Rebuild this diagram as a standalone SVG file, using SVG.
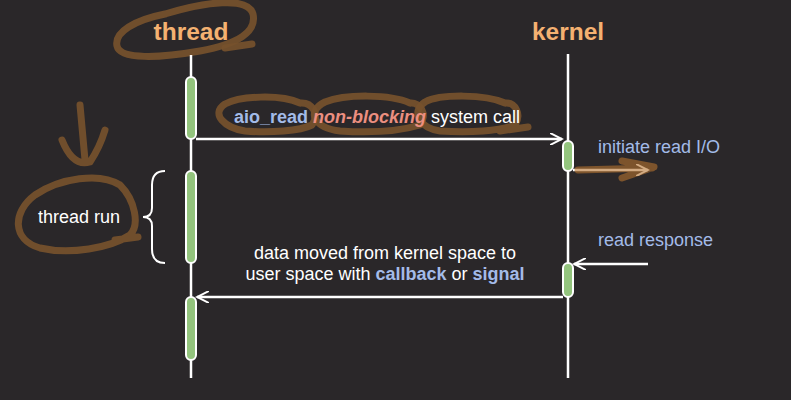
<svg xmlns="http://www.w3.org/2000/svg" width="791" height="400" viewBox="0 0 791 400">
<defs>
<style>
.life{stroke:#ffffff;stroke-width:2.5;fill:none}
.bar{fill:#93c47d;stroke:#ffffff;stroke-width:2}
.msg{stroke:#ffffff;stroke-width:2.5;fill:none}
.hdr{font-family:"Liberation Sans",Arial,sans-serif;font-weight:bold;font-size:24.5px;fill:#f4b171;text-anchor:middle}
.lbl{font-family:"Liberation Sans",Arial,sans-serif;font-size:18px;fill:#ffffff}
.blue{fill:#a3bbe8}
.ink{stroke:#76512c;stroke-width:7;fill:none;stroke-linecap:round;stroke-linejoin:round;opacity:0.92}
</style>
<marker id="open" markerWidth="14" markerHeight="12" refX="12" refY="6" orient="auto" markerUnits="userSpaceOnUse">
<path d="M0,0 L12,6 L0,12" fill="none" stroke="#ffffff" stroke-width="2"/>
</marker>
</defs>
<rect width="791" height="400" fill="#2a2729"/>

<g id="annotations">
<path class="ink" d="M165,14 C205,2 248,-4 253,14 C257,32 238,44 200,51 C160,58 120,60 117,46 C114,32 135,20 165,14"/>
<path class="ink" d="M225,48 L252,44"/>
<path class="ink" d="M80,105 L85,160 M62,140 C70,160 80,165 90,162 C98,150 102,140 105,130"/>
<path class="ink" d="M120,185 C100,172 60,178 35,195 C12,212 12,240 40,248 C70,255 110,248 130,235 C140,225 135,200 120,185 M115,240 L138,237"/>
<path class="ink" d="M300,103 C280,94 240,96 225,104 C210,114 225,128 245,131 C270,133 300,131 312,125 C320,114 312,102 300,103"/>
<path class="ink" d="M410,103 C390,94 345,94 325,102 C305,112 315,128 340,131 C370,133 400,131 420,125 C428,114 420,102 410,103"/>
<path class="ink" d="M505,103 C485,94 440,94 425,102 C410,112 420,128 440,131 C470,133 500,131 515,125 C522,114 515,102 505,103 M500,131 L528,127"/>
</g>

<g id="connectors">
<line class="msg" x1="196" y1="139" x2="562" y2="139" marker-end="url(#open)"/>
<line class="msg" x1="573" y1="170" x2="648" y2="170" marker-end="url(#open)"/>
<line class="msg" x1="648" y1="264" x2="574" y2="264" marker-end="url(#open)"/>
<line class="msg" x1="563" y1="297" x2="197" y2="297" marker-end="url(#open)"/>
</g>

<g id="thread">
<line class="life" x1="191" y1="55" x2="191" y2="378"/>
<text class="hdr" x="191" y="40">thread</text>
<rect class="bar" x="186" y="77" width="10" height="62" rx="5"/>
<rect class="bar" x="186" y="171" width="10" height="92" rx="5"/>
<rect class="bar" x="186" y="297" width="10" height="63" rx="5"/>
</g>

<g id="kernel">
<line class="life" x1="568" y1="54" x2="568" y2="378"/>
<text class="hdr" x="568" y="40">kernel</text>
<rect class="bar" x="563" y="141" width="10" height="30" rx="5"/>
<rect class="bar" x="563" y="263" width="10" height="34" rx="5"/>
</g>

<g id="call-label">
<text class="lbl" x="234" y="123"><tspan class="blue" font-weight="bold">aio_read</tspan> <tspan font-weight="bold" font-style="italic" fill="#ec8f80">non-blocking</tspan> system call</text>
</g>
<g id="initiate-label">
<text class="lbl blue" x="598" y="153">initiate read I/O</text>
</g>
<g id="response-label">
<text class="lbl blue" x="598" y="246">read response</text>
</g>
<g id="data-label">
<text class="lbl" x="385" y="259" text-anchor="middle">data moved from kernel space to</text>
<text class="lbl" x="385" y="280" text-anchor="middle">user space with <tspan class="blue" font-weight="bold">callback</tspan> or <tspan class="blue" font-weight="bold">signal</tspan></text>
</g>
<g id="thread-run">
<text class="lbl" x="38" y="223">thread run</text>
<path d="M165,171 Q152,171 152,185 L152,208 Q152,217 143,217 Q152,217 152,226 L152,249 Q152,263 165,263" fill="none" stroke="#ffffff" stroke-width="2"/>
</g>

<g id="annotation-arrow">
<path d="M578,170 L652,168 M622,161 L654,167 L622,178" stroke="#b5732f" stroke-width="7" fill="none" stroke-linecap="round" stroke-linejoin="round" opacity="0.6"/>
</g>
</svg>
